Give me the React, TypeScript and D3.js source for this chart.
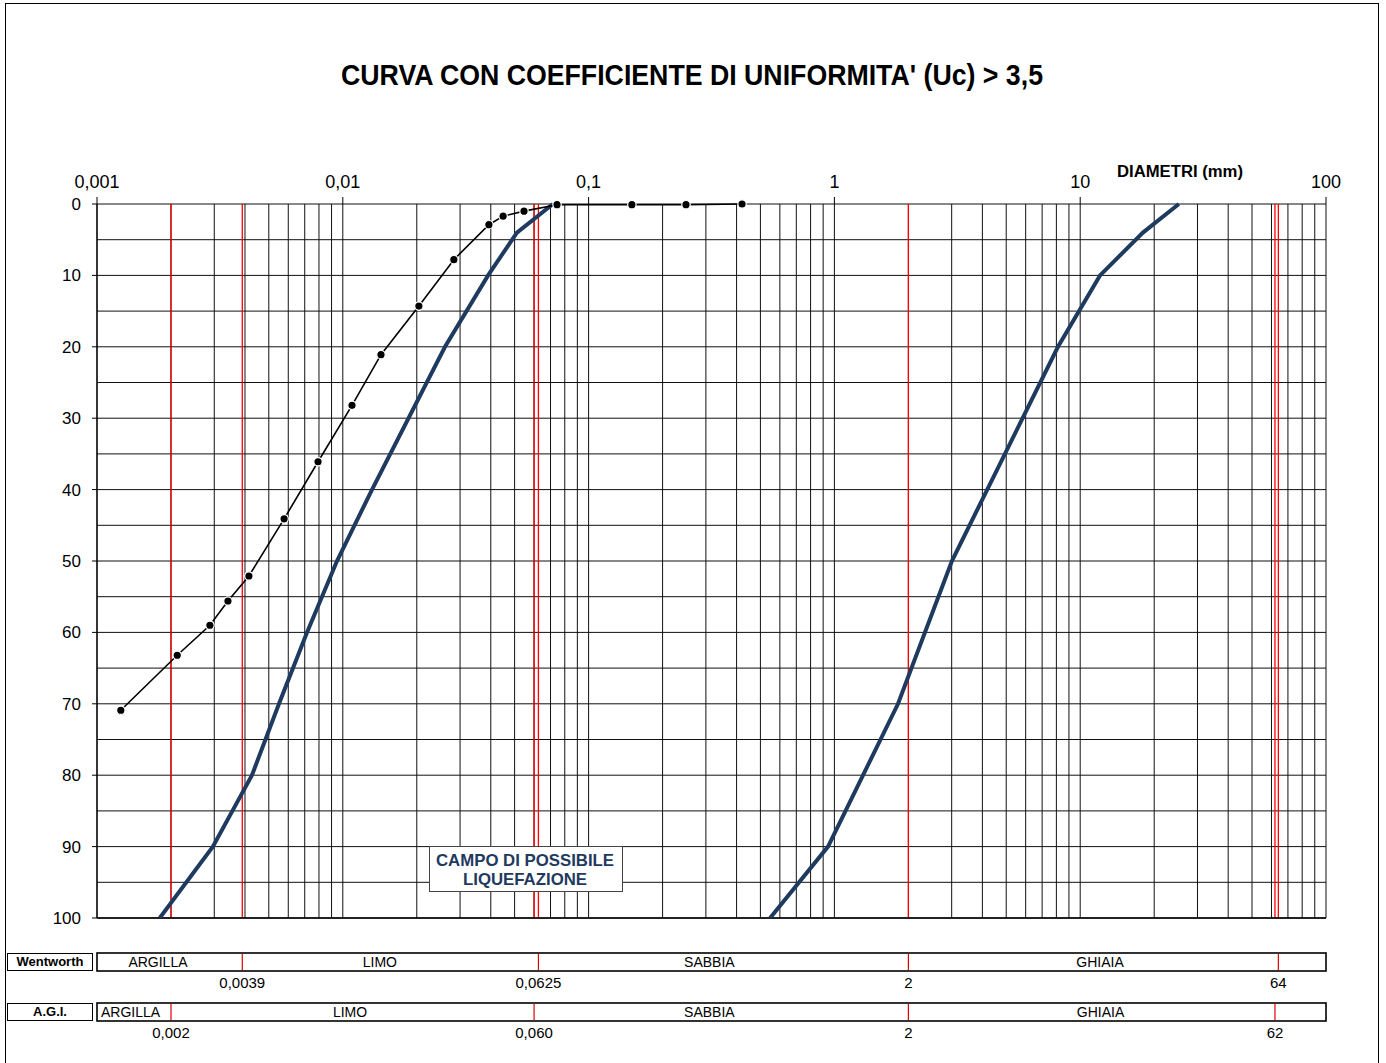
import React from "react";
import * as d3 from "d3";

// Curva limite inferiore (sinistra) - diametro (mm) / valore asse
const leftDiam = [0.0018, 0.00296, 0.00427, 0.0055, 0.00715, 0.00947, 0.01315, 0.02605, 0.039, 0.0511, 0.0716];
const leftVal = [100, 90, 80, 70, 60, 50, 40, 20, 10, 4, 0];

// Curva limite superiore (destra)
const rightDiam = [0.5475, 0.942, 1.815, 3.006, 8.12, 12.04, 18.0, 25.2];
const rightVal = [100, 90, 70, 50, 20, 10, 4, 0];

// Curva granulometrica del campione
const sampleDiam = [0.00125, 0.00212, 0.00288, 0.00341, 0.00415, 0.00577, 0.00793, 0.0109, 0.0143, 0.0204, 0.0283, 0.0393, 0.0449, 0.0546, 0.0744, 0.15, 0.249, 0.421];
const sampleVal = [70.9, 63.2, 59.0, 55.6, 52.1, 44.1, 36.1, 28.2, 21.1, 14.3, 7.8, 2.9, 1.7, 1.0, 0.1, 0.1, 0.1, 0];

// Limiti delle classi
const redLines = [0.002, 0.0039, 0.06, 0.0625, 2, 62, 64];
const decadeTicks = [0.001, 0.01, 0.1, 1, 10, 100];
const decadeLabels = ["0,001", "0,01", "0,1", "1", "10", "100"];
const yTicks = [0, 10, 20, 30, 40, 50, 60, 70, 80, 90, 100];

// Scale granulometriche
const wentClasses = ["ARGILLA", "LIMO", "SABBIA", "GHIAIA"];
const wentClassPos = [0.00177, 0.01415, 0.31, 12.05];
const wentLimits = [0.0039, 0.0625, 2, 64];
const wentLimitLabels = ["0,0039", "0,0625", "2", "64"];

const agiClasses = ["ARGILLA", "LIMO", "SABBIA", "GHIAIA"];
const agiClassPos = [0.00137, 0.0107, 0.31, 12.1];
const agiLimits = [0.002, 0.06, 2, 62];
const agiLimitLabels = ["0,002", "0,060", "2", "62"];

const FONT = "'Liberation Sans', Arial, sans-serif";
const NAVY = "#1f3a5f";

export default function App() {
  const W = 1386;
  const H = 1063;
  const x = d3.scaleLog().domain([0.001, 100]).range([97, 1326]);
  const y = d3.scaleLinear().domain([0, 100]).range([204, 918]);

  const gridX: number[] = [];
  for (let k = -3; k <= 1; k++) {
    for (let m = 1; m <= 9; m++) gridX.push(m * Math.pow(10, k));
  }
  gridX.push(100);
  const gridY = d3.range(0, 101, 5);

  const line = d3
    .line<[number, number]>()
    .x((d) => x(d[0]))
    .y((d) => y(d[1]));

  const leftPts = leftDiam.map((d, i) => [d, leftVal[i]] as [number, number]);
  const rightPts = rightDiam.map((d, i) => [d, rightVal[i]] as [number, number]);
  const samplePts = sampleDiam.map((d, i) => [d, sampleVal[i]] as [number, number]);

  const x0 = x.range()[0];
  const x1 = x.range()[1];

  const scaleRow = (
    top: number,
    name: string,
    classes: string[],
    classPos: number[],
    limits: number[],
    limitLabels: string[]
  ) => (
    <g>
      <rect x={7.5} y={top + 0.5} width={85} height={17} fill="#fff" stroke="#000" strokeWidth={1} />
      <text x={50} y={top + 13} textAnchor="middle" fontSize={13} fontWeight="bold" fontFamily={FONT}>
        {name}
      </text>
      <rect x={x0} y={top} width={x1 - x0} height={18} fill="#fff" stroke="#000" strokeWidth={1.6} />
      {limits.map((v, i) => (
        <g key={i}>
          <line x1={x(v)} x2={x(v)} y1={top + 1} y2={top + 17} stroke="#e00000" strokeWidth={1.2} />
          <text x={x(v)} y={top + 35} textAnchor="middle" fontSize={15} fontFamily={FONT}>
            {limitLabels[i]}
          </text>
        </g>
      ))}
      {classes.map((c, i) => (
        <text key={c} x={x(classPos[i])} y={top + 14} textAnchor="middle" fontSize={14} fontFamily={FONT}>
          {c}
        </text>
      ))}
    </g>
  );

  return (
    <svg
      width={W}
      height={H}
      style={{ position: "absolute", left: 0, top: 0, background: "#fff" }}
    >
      <rect x={5.5} y={3.5} width={1373} height={1070} fill="#fff" stroke="#000" strokeWidth={1} />

      <text
        x={692}
        y={85}
        textAnchor="middle"
        fontSize={29}
        fontWeight="bold"
        fontFamily={FONT}
        textLength={702}
        lengthAdjust="spacingAndGlyphs"
      >
        CURVA CON COEFFICIENTE DI UNIFORMITA' (Uc) &gt; 3,5
      </text>

      {/* griglia */}
      {gridY.map((v) => (
        <line key={`h${v}`} x1={x0} x2={x1} y1={y(v)} y2={y(v)} stroke="#111" strokeWidth={1} />
      ))}
      {gridX.map((v, i) => (
        <line key={`v${i}`} x1={x(v)} x2={x(v)} y1={y(0)} y2={y(100)} stroke="#111" strokeWidth={1} />
      ))}
      {redLines.map((v, i) => (
        <line key={`r${i}`} x1={x(v)} x2={x(v)} y1={y(0)} y2={y(100)} stroke="#ff0000" strokeWidth={1.3} />
      ))}

      {/* assi */}
      <line x1={x0} x2={x0} y1={y(0)} y2={y(100)} stroke="#000" strokeWidth={1.2} />
      <line x1={x0} x2={x1} y1={y(100)} y2={y(100)} stroke="#000" strokeWidth={1.6} />
      {decadeTicks.map((v, i) => (
        <g key={`t${i}`}>
          <line x1={x(v)} x2={x(v)} y1={y(0) - 7} y2={y(0)} stroke="#000" strokeWidth={1} />
          <text x={x(v)} y={y(0) - 16} textAnchor="middle" fontSize={18} fontFamily={FONT}>
            {decadeLabels[i]}
          </text>
        </g>
      ))}
      {yTicks.map((v) => (
        <g key={`y${v}`}>
          <line x1={x0 - 5} x2={x0} y1={y(v)} y2={y(v)} stroke="#000" strokeWidth={1} />
          <text x={x0 - 16} y={y(v) + 6} textAnchor="end" fontSize={17} fontFamily={FONT}>
            {v}
          </text>
        </g>
      ))}
      <text
        x={1180}
        y={177}
        textAnchor="middle"
        fontSize={16}
        fontWeight="bold"
        fontFamily={FONT}
        textLength={126}
        lengthAdjust="spacingAndGlyphs"
      >
        DIAMETRI (mm)
      </text>

      {/* fuso */}
      <defs>
        <clipPath id="plot">
          <rect x={x0} y={y(0) - 3} width={x1 - x0} height={y(100) - y(0) + 3} />
        </clipPath>
      </defs>
      <g clipPath="url(#plot)">
        <path d={line(leftPts) ?? ""} fill="none" stroke={NAVY} strokeWidth={4} />
        <path d={line(rightPts) ?? ""} fill="none" stroke={NAVY} strokeWidth={4} />
      </g>

      {/* campione */}
      <path d={line(samplePts) ?? ""} fill="none" stroke="#000" strokeWidth={1.6} />
      {samplePts.map((p, i) => (
        <circle key={`s${i}`} cx={x(p[0])} cy={y(p[1])} r={4.2} fill="#000" stroke="#fff" strokeWidth={1.2} />
      ))}

      {/* box */}
      <rect x={429.5} y={846.5} width={193} height={45} fill="#fff" stroke="#444" strokeWidth={1} />
      <text x={525} y={866} textAnchor="middle" fontSize={16.5} fontWeight="bold" fill={NAVY} fontFamily={FONT}
        textLength={178} lengthAdjust="spacingAndGlyphs">
        CAMPO DI POSSIBILE
      </text>
      <text x={525} y={885} textAnchor="middle" fontSize={16.5} fontWeight="bold" fill={NAVY} fontFamily={FONT}
        textLength={124} lengthAdjust="spacingAndGlyphs">
        LIQUEFAZIONE
      </text>

      {scaleRow(953, "Wentworth", wentClasses, wentClassPos, wentLimits, wentLimitLabels)}
      {scaleRow(1003, "A.G.I.", agiClasses, agiClassPos, agiLimits, agiLimitLabels)}
    </svg>
  );
}
